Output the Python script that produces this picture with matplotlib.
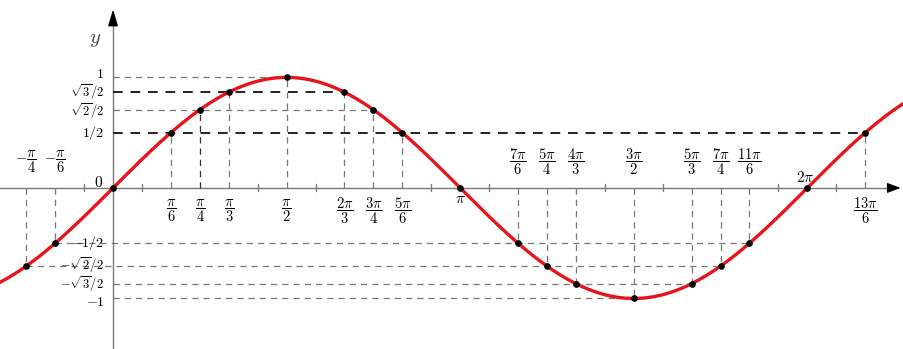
import numpy as np
import matplotlib.pyplot as plt

plt.rcParams['mathtext.fontset'] = 'cm'

# special angles marked on the curve and their sine values
angles = [-np.pi/4, -np.pi/6, 0, np.pi/6, np.pi/4, np.pi/3, np.pi/2,
          2*np.pi/3, 3*np.pi/4, 5*np.pi/6, np.pi, 7*np.pi/6, 5*np.pi/4,
          4*np.pi/3, 3*np.pi/2, 5*np.pi/3, 7*np.pi/4, 11*np.pi/6,
          2*np.pi, 13*np.pi/6]
values = [-np.sqrt(2)/2, -0.5, 0, 0.5, np.sqrt(2)/2, np.sqrt(3)/2, 1,
          np.sqrt(3)/2, np.sqrt(2)/2, 0.5, 0, -0.5, -np.sqrt(2)/2,
          -np.sqrt(3)/2, -1, -np.sqrt(3)/2, -np.sqrt(2)/2, -0.5,
          0, 0.5]
x_labels = [r'$-\dfrac{\pi}{4}$', r'$-\dfrac{\pi}{6}$', '', r'$\dfrac{\pi}{6}$',
            r'$\dfrac{\pi}{4}$', r'$\dfrac{\pi}{3}$', r'$\dfrac{\pi}{2}$',
            r'$\dfrac{2\pi}{3}$', r'$\dfrac{3\pi}{4}$', r'$\dfrac{5\pi}{6}$',
            r'$\pi$', r'$\dfrac{7\pi}{6}$', r'$\dfrac{5\pi}{4}$',
            r'$\dfrac{4\pi}{3}$', r'$\dfrac{3\pi}{2}$', r'$\dfrac{5\pi}{3}$',
            r'$\dfrac{7\pi}{4}$', r'$\dfrac{11\pi}{6}$', r'$2\pi$',
            r'$\dfrac{13\pi}{6}$']

# y levels with their labels
y_levels = [1, np.sqrt(3)/2, np.sqrt(2)/2, 0.5, -0.5, -np.sqrt(2)/2, -np.sqrt(3)/2, -1]
y_labels = [r'$\mathbf{1}$', r'$\sqrt{3}/2$', r'$\sqrt{2}/2$', r'$\mathbf{1/2}$',
            r'$\mathbf{-1/2}$', r'$-\sqrt{2}/2$', r'$-\sqrt{3}/2$', r'$\mathbf{-1}$']
bold_levels = [0.5, np.sqrt(3)/2]

xmin, xmax = -1.023, 7.158
ymin, ymax = -1.457, 1.70

fig = plt.figure(figsize=(9.04, 3.49), dpi=100)
ax = fig.add_axes([0, 0, 1, 1])
ax.set_xlim(xmin, xmax)
ax.set_ylim(ymin, ymax)
ax.axis('off')

# axes with arrows
ax.plot([xmin, xmax - 0.08], [0, 0], color='#777777', lw=1.0, zorder=1)
ax.plot([0, 0], [ymin, ymax - 0.12], color='#777777', lw=1.0, zorder=1)
ax.annotate('', xy=(xmax - 0.005, 0), xytext=(xmax - 0.12, 0),
            arrowprops=dict(arrowstyle='-|>,head_length=0.8,head_width=0.3',
                            color='black', lw=1))
ax.annotate('', xy=(0, 1.64), xytext=(0, 1.45),
            arrowprops=dict(arrowstyle='-|>,head_length=1.0,head_width=0.3',
                            color='black', lw=1))
ax.text(-0.16, 1.35, r'$y$', fontsize=15, ha='center', va='center', color='#444444')

# small ticks at odd multiples of pi/12
for k in range(-1, 27, 2):
    if k in (3, 9, 15, 21):
        continue
    t = k*np.pi/12
    if xmin < t < xmax:
        ax.plot([t, t], [-0.03, 0.035], color='#777777', lw=0.9, zorder=1)

# vertical dashed guides
for a, v in zip(angles, values):
    if v != 0:
        c = '#333333' if np.isclose(a, np.pi/4) else '#777777'
        ax.plot([a, a], [0, v], ls=(0, (5, 4)), color=c, lw=0.9, zorder=2)

# horizontal dashed guides
for lvl in y_levels:
    xs = [a for a, v in zip(angles, values) if np.isclose(v, lvl)]
    left = min([0] + xs)
    right = max(xs)
    bold = any(np.isclose(lvl, b) for b in bold_levels)
    ax.plot([left, right], [lvl, lvl], ls=(0, (5, 4)),
            color='#222222' if bold else '#777777', lw=1.4 if bold else 0.9, zorder=2)

# sine curve
x = np.linspace(xmin, xmax, 800)
ax.plot(x, np.sin(x), color='#e8141c', lw=2.4, zorder=3)
ax.plot(angles, values, 'o', color='black', ms=3.8, zorder=4)

# x labels: above axis where sine is negative (and for -pi/4, -pi/6), below otherwise
for a, v, lab in zip(angles, values, x_labels):
    if not lab:
        continue
    if lab == r'$\pi$':
        ax.text(a, -0.1, lab, fontsize=11, ha='center', va='center')
    elif lab == r'$2\pi$':
        ax.text(a - 0.02, 0.09, lab, fontsize=11, ha='center', va='center')
    elif v < 0:
        ax.text(a, 0.24, lab, fontsize=10.5, ha='center', va='center')
    else:
        ax.text(a, -0.21, lab, fontsize=10.5, ha='center', va='center')

ax.text(-0.09, 0.05, r'$\mathbf{0}$', fontsize=11, ha='right', va='center')
# small nudges keep the tightly stacked labels apart
nudge = [0.03, 0.0, -0.01, 0.0, 0.0, 0.01, 0.0, -0.03]
for lvl, lab, dy in zip(y_levels, y_labels, nudge):
    fs = 9 if 'sqrt' in lab else 10
    ax.text(-0.08, lvl + dy, lab, fontsize=fs, ha='right', va='center')

fig.savefig('out.png', dpi=100)
